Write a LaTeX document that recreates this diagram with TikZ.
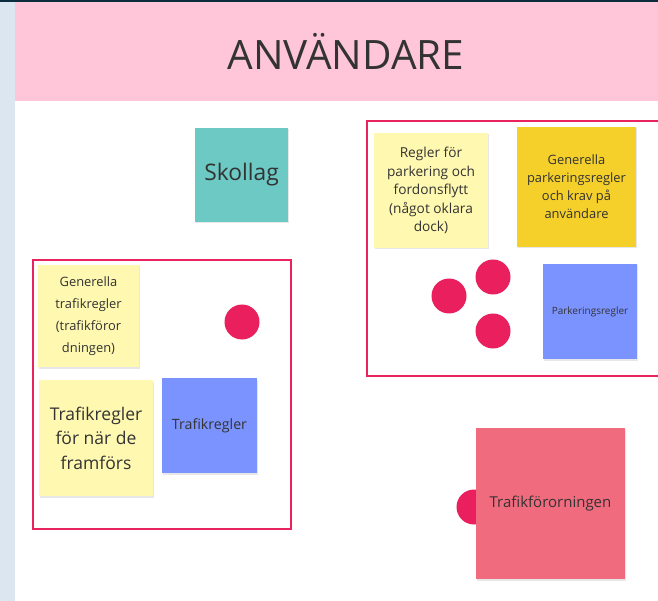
\documentclass[tikz,border=0pt]{standalone}
\usepackage{fontspec}
\setmainfont{Open Sans}
\definecolor{topbar}{HTML}{0D2B3E}
\definecolor{sidebar}{HTML}{DCE6F0}
\definecolor{headpink}{HTML}{FFC6DA}
\definecolor{framered}{HTML}{E8235E}
\definecolor{dotred}{HTML}{EA1F5E}
\definecolor{lightyellow}{HTML}{FFF8B0}
\definecolor{gold}{HTML}{F5D02A}
\definecolor{bluenote}{HTML}{7B93FF}
\definecolor{teal}{HTML}{6CC9C4}
\definecolor{rosenote}{HTML}{F06B7E}
\definecolor{txt}{HTML}{333333}
\tikzset{
  note/.style={inner sep=0pt, align=center, text=txt, font=\fontsize{12}{19}\selectfont,
    preaction={fill=black!18, opacity=0.5, transform canvas={xshift=0.8pt, yshift=-1.5pt}}},
  frame/.style={draw=framered, line width=2pt},
  dot/.style={circle, fill=dotred, minimum size=35pt, inner sep=0pt}
}
\begin{document}
\begin{tikzpicture}[x=1pt,y=-1pt]
\useasboundingbox (0,0) rectangle (658,601);
\clip (0,0) rectangle (658,601);
\fill[white] (0,0) rectangle (658,601);
\fill[sidebar] (0,0) rectangle (15,601);
\fill[headpink] (15,0) rectangle (658,101);
\fill[topbar] (0,0) rectangle (658,2);
\node[text=txt, font=\fontsize{40.5}{48}\selectfont] (title) at (346,51) {ANVÄNDARE};

% Skollag
\node[note, fill=teal, minimum width=93pt, minimum height=94pt, font=\fontsize{22.8}{26}\selectfont] (skollag) at (241.5,175) {Skollag};

% left frame
\node[frame, minimum width=258pt, minimum height=269pt] (leftframe) at (162,394.5) {};
\node[note, fill=lightyellow, minimum width=101pt, minimum height=102pt, font=\fontsize{12.9}{22}\selectfont] (gentraf) at (88.5,316) {Generella\\trafikregler\\(trafikföror\\dningen)};
\node[dot] (dotL) at (242,322) {};
\node[note, fill=lightyellow, minimum width=114pt, minimum height=116pt, font=\fontsize{17.5}{24.5}\selectfont] (framfors) at (96,438) {Trafikregler\\för när de\\framförs};
\node[note, fill=bluenote, minimum width=95pt, minimum height=95pt, font=\fontsize{14.2}{16}\selectfont] (trafikblue) at (209.5,425.5) {Trafikregler};

% right frame
\draw[frame] (367,121) rectangle (675,376);
\coordinate (rightframe) at (367,121);
\node[note, fill=lightyellow, minimum width=114pt, minimum height=115pt, font=\fontsize{13.7}{18.6}\selectfont] (parkregler) at (431,190.5) {Regler för\\parkering och\\fordonsflytt\\(något oklara\\dock)};
\node[note, fill=gold, minimum width=119pt, minimum height=120pt, font=\fontsize{12.9}{18}\selectfont] (genpark) at (576.5,187) {Generella\\parkeringsregler\\och krav på\\användare};
\node[dot] (dotA) at (449,296) {};
\node[dot] (dotB) at (493,277) {};
\node[dot] (dotC) at (493,331) {};
\node[note, fill=bluenote, minimum width=94pt, minimum height=95pt, font=\fontsize{10}{12}\selectfont] (parkblue) at (590,311.5) {Parkeringsregler};

% Trafikförorningen
\node[dot] (dotD) at (474,507) {};
\node[note, fill=rosenote, minimum width=149pt, minimum height=151pt, font=\fontsize{15}{18}\selectfont] (forordning) at (550.5,503.5) {Trafikförorningen};
\end{tikzpicture}
\end{document}
